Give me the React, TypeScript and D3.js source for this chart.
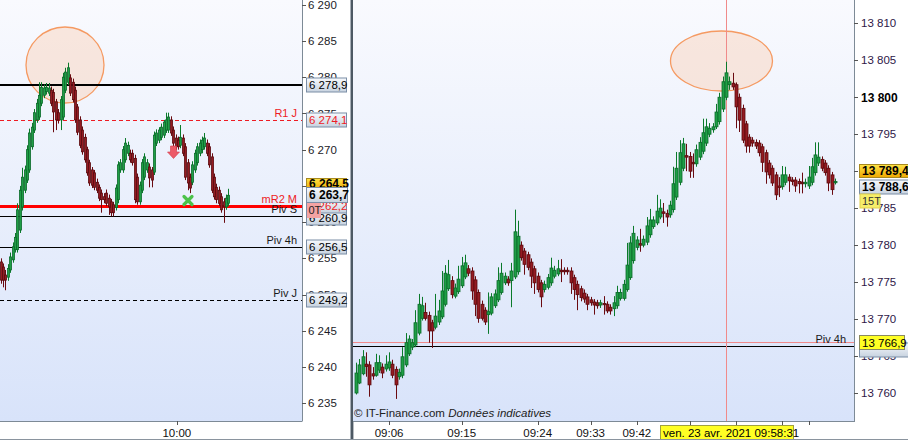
import * as d3 from 'd3';

const FONT = '"Liberation Sans", Arial, sans-serif';

// left panel candles (CAC 40), [open, high, low, close]
const leftCandles: [number, number, number, number][] = [
  [6254.5, 6255.0, 6251.5, 6252.0], [6253.8, 6254.3, 6251.0, 6252.0], [6252.7, 6253.4, 6250.6, 6252.0],
  [6252.4, 6254.2, 6251.9, 6253.6], [6253.4, 6255.8, 6253.0, 6255.2], [6254.8, 6257.2, 6254.4, 6256.6],
  [6256.2, 6258.5, 6255.8, 6257.9], [6256.2, 6262.6, 6255.8, 6261.7], [6258.9, 6265.0, 6258.5, 6264.4],
  [6262.1, 6267.5, 6261.6, 6266.2], [6264.4, 6267.8, 6264.0, 6267.2], [6265.8, 6270.6, 6265.4, 6270.0],
  [6267.2, 6272.9, 6266.8, 6272.3], [6270.4, 6273.7, 6270.0, 6273.1], [6272.7, 6275.6, 6272.3, 6275.1],
  [6274.1, 6277.0, 6273.7, 6276.4], [6274.5, 6279.3, 6274.1, 6277.5], [6276.4, 6279.3, 6276.0, 6278.6],
  [6277.5, 6279.0, 6277.1, 6278.5], [6278.0, 6279.2, 6277.6, 6278.6], [6277.8, 6279.2, 6277.4, 6278.5],
  [6278.2, 6278.7, 6276.0, 6276.4], [6277.9, 6278.4, 6272.4, 6275.2], [6276.6, 6277.0, 6272.7, 6274.1],
  [6275.1, 6275.6, 6273.6, 6274.1], [6274.1, 6277.4, 6272.7, 6276.9], [6274.5, 6280.6, 6274.1, 6280.0],
  [6278.2, 6281.3, 6277.8, 6280.7], [6279.3, 6282.0, 6278.9, 6281.3], [6279.9, 6280.4, 6277.4, 6277.8],
  [6279.3, 6279.8, 6276.5, 6276.9], [6278.2, 6278.7, 6273.7, 6274.1], [6275.9, 6276.3, 6272.0, 6272.4],
  [6274.1, 6274.6, 6270.2, 6270.6], [6272.7, 6273.2, 6269.3, 6269.7], [6271.7, 6272.2, 6268.2, 6268.6],
  [6270.0, 6270.4, 6266.4, 6266.8], [6268.2, 6268.6, 6265.0, 6265.4], [6267.2, 6267.6, 6264.7, 6265.1],
  [6266.8, 6267.2, 6264.4, 6264.8], [6265.5, 6266.0, 6264.0, 6264.4], [6264.8, 6265.2, 6262.9, 6263.3],
  [6264.0, 6264.5, 6261.3, 6263.1], [6263.5, 6264.0, 6262.6, 6263.1], [6264.0, 6264.5, 6262.2, 6262.6],
  [6263.3, 6263.8, 6261.0, 6262.1], [6262.8, 6263.2, 6260.8, 6261.3], [6262.4, 6262.8, 6260.8, 6261.3],
  [6262.0, 6265.2, 6261.6, 6264.7], [6263.1, 6268.4, 6262.6, 6267.9], [6267.2, 6268.7, 6266.8, 6268.2],
  [6267.2, 6270.5, 6266.8, 6270.0], [6268.6, 6271.6, 6268.2, 6270.9], [6269.5, 6271.1, 6269.1, 6270.6],
  [6269.5, 6270.0, 6268.2, 6268.6], [6269.5, 6270.0, 6267.8, 6268.2], [6268.8, 6269.3, 6262.6, 6263.1],
  [6266.2, 6266.7, 6262.4, 6262.8], [6262.8, 6265.6, 6262.4, 6265.1], [6264.4, 6268.7, 6264.0, 6268.2],
  [6266.2, 6269.5, 6265.8, 6269.0], [6267.2, 6268.7, 6266.8, 6268.2], [6267.6, 6268.1, 6264.8, 6266.1],
  [6267.2, 6267.6, 6264.8, 6265.8], [6266.9, 6272.5, 6266.5, 6272.0], [6270.9, 6272.8, 6270.5, 6272.3],
  [6271.3, 6273.1, 6270.9, 6272.7], [6271.7, 6273.6, 6271.3, 6273.1], [6272.0, 6274.1, 6271.6, 6273.8],
  [6272.7, 6275.1, 6272.3, 6274.1], [6272.7, 6275.1, 6272.3, 6274.5], [6274.1, 6274.6, 6271.9, 6272.3],
  [6272.7, 6273.2, 6270.5, 6270.9], [6271.6, 6272.1, 6270.0, 6270.4], [6271.3, 6271.8, 6270.0, 6270.4],
  [6270.6, 6273.4, 6270.2, 6271.7], [6271.6, 6272.1, 6269.1, 6269.5], [6270.4, 6270.9, 6265.8, 6266.2],
  [6268.2, 6268.7, 6264.4, 6265.4], [6266.2, 6266.7, 6264.0, 6264.7], [6265.5, 6268.4, 6265.1, 6267.9],
  [6267.2, 6270.0, 6266.8, 6269.5], [6268.2, 6270.9, 6267.8, 6270.4], [6269.5, 6271.4, 6269.1, 6270.9],
  [6270.0, 6271.8, 6269.5, 6271.3], [6270.4, 6272.3, 6270.0, 6271.6], [6270.9, 6271.4, 6269.1, 6269.5],
  [6270.4, 6270.9, 6267.5, 6267.9], [6269.0, 6269.5, 6264.0, 6264.4], [6266.2, 6266.7, 6263.1, 6263.5],
  [6264.8, 6265.3, 6262.6, 6263.1], [6264.4, 6264.9, 6262.2, 6262.6], [6263.5, 6264.0, 6261.3, 6261.7],
  [6262.8, 6263.3, 6259.9, 6262.1], [6262.1, 6263.8, 6261.7, 6263.3], [6262.6, 6264.6, 6262.2, 6263.7],
];

// right panel candles (DAX), [open, high, low, close]
const rightCandles: [number, number, number, number][] = [
  [13760.0, 13764.1, 13759.8, 13762.7], [13761.35, 13764.6, 13761.2, 13763.8], [13762.6, 13765.8, 13762.4, 13764.9],
  [13763.9, 13765.5, 13762.2, 13763.6], [13763.8, 13764.3, 13759.5, 13761.1], [13762.6, 13763.5, 13761.8, 13762.3],
  [13762.4, 13765.3, 13762.2, 13764.1], [13763.1, 13765.1, 13762.7, 13764.1], [13763.5, 13764.0, 13762.0, 13762.7],
  [13763.25, 13765.1, 13762.9, 13763.9], [13763.4, 13765.5, 13763.0, 13764.2], [13763.9, 13764.5, 13762.0, 13762.4],
  [13763.2, 13763.6, 13759.2, 13761.1], [13762.2, 13763.3, 13761.8, 13762.8], [13762.4, 13766.2, 13762.0, 13764.9],
  [13763.8, 13768.1, 13763.5, 13766.8], [13765.3, 13767.8, 13765.0, 13767.3], [13766.2, 13767.3, 13765.8, 13766.8],
  [13766.5, 13771.2, 13766.2, 13769.5], [13768.1, 13773.4, 13767.8, 13772.0], [13770.1, 13773.0, 13769.8, 13771.8],
  [13770.9, 13772.2, 13769.8, 13770.1], [13770.5, 13771.0, 13766.8, 13768.4], [13769.5, 13769.9, 13766.1, 13768.4],
  [13768.9, 13773.4, 13768.6, 13770.4], [13769.6, 13772.6, 13769.2, 13771.1], [13770.3, 13776.5, 13770.0, 13773.8],
  [13772.0, 13777.3, 13771.7, 13776.2], [13774.1, 13778.0, 13773.8, 13776.0], [13775.2, 13775.8, 13772.8, 13773.3],
  [13773.1, 13774.8, 13772.8, 13774.2], [13773.7, 13777.2, 13773.4, 13775.4], [13774.5, 13778.4, 13774.2, 13777.2],
  [13775.7, 13778.7, 13775.4, 13777.6], [13776.8, 13777.3, 13775.8, 13776.2], [13776.5, 13777.0, 13772.6, 13773.8],
  [13775.3, 13775.8, 13770.4, 13772.0], [13773.6, 13774.0, 13769.5, 13770.1], [13772.0, 13772.5, 13769.8, 13770.1],
  [13771.2, 13771.6, 13769.2, 13769.6], [13770.6, 13773.6, 13768.0, 13771.0], [13770.8, 13773.5, 13770.5, 13773.0],
  [13771.8, 13774.0, 13771.5, 13773.4], [13772.6, 13777.0, 13772.3, 13775.2], [13773.6, 13777.6, 13773.3, 13776.2],
  [13774.9, 13776.3, 13774.6, 13775.8], [13775.4, 13775.8, 13774.5, 13774.9], [13775.2, 13777.6, 13771.6, 13776.5],
  [13775.7, 13784.8, 13775.4, 13781.8], [13776.4, 13783.3, 13776.0, 13781.2], [13780.0, 13780.5, 13777.9, 13778.3],
  [13779.2, 13779.6, 13776.0, 13777.4], [13778.7, 13779.1, 13776.6, 13777.0], [13777.7, 13778.2, 13774.2, 13775.8],
  [13776.8, 13777.2, 13773.4, 13774.9], [13775.8, 13776.3, 13773.6, 13774.0], [13774.9, 13775.3, 13771.6, 13773.0],
  [13774.0, 13775.2, 13773.6, 13774.7], [13774.3, 13776.1, 13774.0, 13775.6], [13774.9, 13778.3, 13774.5, 13776.9],
  [13775.8, 13777.2, 13775.5, 13776.6], [13776.1, 13778.0, 13775.8, 13776.8], [13776.6, 13778.1, 13775.0, 13776.4],
  [13776.6, 13777.0, 13776.0, 13776.4], [13776.6, 13777.0, 13776.0, 13776.4], [13776.5, 13777.0, 13773.4, 13774.9],
  [13775.6, 13776.0, 13772.6, 13774.0], [13774.7, 13775.2, 13771.2, 13773.3], [13774.1, 13774.5, 13772.4, 13772.9],
  [13773.5, 13774.0, 13772.2, 13772.7], [13773.0, 13773.4, 13771.2, 13772.0], [13772.6, 13773.0, 13771.8, 13772.2],
  [13772.3, 13772.7, 13770.6, 13771.9], [13772.2, 13772.6, 13771.4, 13771.8], [13771.9, 13772.6, 13771.5, 13772.2],
  [13772.1, 13773.1, 13770.6, 13772.0], [13772.0, 13772.4, 13770.8, 13771.1], [13771.6, 13772.0, 13770.6, 13771.1],
  [13771.4, 13773.1, 13770.4, 13772.2], [13771.8, 13774.5, 13771.4, 13773.6], [13772.8, 13774.1, 13772.5, 13773.6],
  [13772.8, 13775.3, 13772.5, 13774.7], [13774.0, 13780.3, 13773.7, 13777.3], [13775.6, 13781.2, 13775.3, 13780.3],
  [13777.9, 13782.6, 13777.5, 13781.6], [13779.7, 13781.2, 13779.3, 13780.7], [13780.2, 13782.2, 13779.1, 13780.0],
  [13780.0, 13781.3, 13779.7, 13780.8], [13780.4, 13783.8, 13780.0, 13782.6], [13781.4, 13784.9, 13781.0, 13783.4],
  [13782.5, 13783.9, 13782.2, 13783.4], [13783.0, 13786.8, 13782.7, 13784.6], [13783.8, 13786.2, 13783.5, 13785.0],
  [13784.5, 13785.7, 13783.0, 13784.3], [13784.3, 13784.8, 13782.5, 13783.8], [13784.1, 13786.0, 13783.7, 13785.4],
  [13784.8, 13790.6, 13784.4, 13788.3], [13786.5, 13792.6, 13786.1, 13790.4], [13788.5, 13794.2, 13788.1, 13792.5],
  [13790.4, 13794.5, 13790.0, 13793.7], [13792.1, 13793.7, 13790.0, 13791.9], [13792.0, 13792.6, 13789.1, 13790.0],
  [13791.2, 13792.4, 13789.1, 13791.0], [13791.0, 13793.6, 13790.6, 13792.9], [13791.9, 13794.6, 13791.5, 13793.9],
  [13792.7, 13797.1, 13792.3, 13795.2], [13793.8, 13797.1, 13793.4, 13796.0], [13795.0, 13796.5, 13794.6, 13795.8],
  [13795.6, 13796.5, 13795.2, 13796.0], [13796.0, 13799.1, 13795.7, 13798.0], [13796.7, 13800.6, 13796.3, 13800.0],
  [13798.4, 13802.8, 13798.0, 13802.1], [13800.0, 13804.8, 13799.6, 13803.3], [13801.7, 13802.8, 13801.0, 13802.1],
  [13801.9, 13803.3, 13801.0, 13801.4], [13801.7, 13802.0, 13795.8, 13798.7], [13800.0, 13800.5, 13795.3, 13796.9],
  [13798.5, 13799.0, 13793.8, 13794.2], [13796.4, 13796.8, 13792.5, 13793.4], [13794.6, 13795.0, 13792.5, 13793.4],
  [13794.2, 13794.6, 13793.3, 13793.8], [13793.9, 13794.3, 13793.0, 13793.4], [13793.8, 13794.2, 13792.0, 13792.5],
  [13793.3, 13793.7, 13789.9, 13791.2], [13792.5, 13792.9, 13788.3, 13789.9], [13791.1, 13791.5, 13789.0, 13789.5],
  [13790.4, 13790.8, 13788.0, 13788.4], [13789.5, 13789.9, 13786.1, 13786.8], [13788.0, 13789.2, 13786.5, 13787.8],
  [13787.9, 13790.7, 13787.5, 13789.5], [13788.5, 13790.6, 13788.1, 13789.5], [13789.2, 13789.6, 13787.2, 13788.7],
  [13788.8, 13789.2, 13788.1, 13788.6], [13788.8, 13789.2, 13787.2, 13788.0], [13788.6, 13789.0, 13787.0, 13788.3],
  [13788.5, 13789.8, 13787.0, 13788.3], [13788.3, 13789.0, 13787.8, 13788.5], [13788.0, 13790.7, 13787.6, 13789.2],
  [13788.5, 13791.8, 13788.1, 13790.6], [13789.8, 13793.9, 13789.4, 13792.2], [13791.1, 13793.9, 13790.7, 13791.9],
  [13791.6, 13792.0, 13790.0, 13790.4], [13791.1, 13791.5, 13789.4, 13789.8], [13790.4, 13790.8, 13787.3, 13788.4],
  [13789.5, 13789.9, 13786.8, 13787.5], [13788.5, 13789.0, 13788.2, 13788.6],
];

const leftTicks = [6235, 6240, 6245, 6250, 6255, 6260, 6265, 6270, 6275, 6280, 6285, 6290];
const rightTicks = [13760, 13765, 13770, 13775, 13780, 13785, 13790, 13795, 13800, 13805, 13810];

const leftTimeIdx = [73.5];
const leftTimeLabels = ['10:00'];
// labels after 09:42 sit under the crosshair time box
const rightTimeIdx = [10, 32, 55, 71, 85, 101, 115, 129, 137];
const rightTimeLabels = ['09:06', '09:15', '09:24', '09:33', '09:42', '', '', '', ''];

const leftLevelNames = ['', 'R1 J', 'mR2 M', 'Piv S', 'Piv 4h', 'Piv J'];
const leftLevelValues = [6278.9, 6274.1, 6262.2, 6260.9, 6256.5, 6249.2];
const rightLevelNames = ['Piv 4h'];
const rightLevelValues = [13766.3];

const leftLast = [6264.5, 6263.7];
const rightLast = [13789.4, 13788.6];
const crossIdx = 112;
const crossPrice = 13766.9;
const crossTime = 'ven. 23 avr. 2021 09:58:31';

const loc = d3.formatLocale({ decimal: ',', thousands: ' ', grouping: [3], currency: ['', ''] });
const fmt0 = loc.format(',.0f');
const fmt1 = loc.format(',.1f');

const UP_FILL = '#1f9e46', UP_EDGE = '#0b6a2a', UP_WICK = '#0a7a2a';
const DN_FILL = '#941b22', DN_EDGE = '#5a0a0e', DN_WICK = '#6a0a10';

function Candles({ data, x, y, w }: any) {
  return (
    <g>
      {data.map(([o, h, l, c]: number[], i: number) => {
        const up = c >= o;
        const cx = Math.round(x(i)) + 0.5;
        const top = y(Math.max(o, c));
        const bot = y(Math.min(o, c));
        return (
          <g key={i}>
            <line x1={cx} x2={cx} y1={y(h)} y2={y(l)} stroke={up ? UP_WICK : DN_WICK} strokeWidth={1} />
            <rect x={cx - w / 2} y={top} width={w} height={Math.max(1.2, bot - top)}
              fill={up ? UP_FILL : DN_FILL} stroke={up ? UP_EDGE : DN_EDGE} strokeWidth={0.8} />
          </g>
        );
      })}
    </g>
  );
}

function Tag({ x, yc, w, text, fill, stroke, color = '#000', bold = false, h = 15 }: any) {
  return (
    <g>
      <rect x={x + 0.5} y={yc - h / 2 + 0.5} width={w} height={h - 1} fill={fill} stroke={stroke} strokeWidth={1} />
      <text x={x + 3} y={yc} dy="0.36em" fontSize={bold ? 12 : 11.5} fontWeight={bold ? 'bold' : 'normal'} fill={color}>{text}</text>
    </g>
  );
}

export default function App() {
  const L = { x0: 0, x1: 302, y0: 0, y1: 421 };
  const R = { x0: 353, x1: 855, y0: 0, y1: 421 };

  const yL = d3.scaleLinear().domain([6235, 6290]).range([403.3, 4.7]);
  const xL = d3.scaleLinear().domain([0, leftCandles.length - 1]).range([0.7, 228.3]);
  const yR = d3.scaleLinear().domain([13760, 13810]).range([393, 23.3]);
  const xR = d3.scaleLinear().domain([0, rightCandles.length - 1]).range([356, 835]);

  const levelStyle = (name: string) => {
    if (name === '') return { stroke: '#000', w: 2, dash: undefined, color: '#000' };
    if (name === 'R1 J') return { stroke: '#ee1c24', w: 1, dash: '4,3', color: '#ee1c24' };
    if (name === 'mR2 M') return { stroke: '#ff0000', w: 3, dash: undefined, color: '#ee1c24' };
    if (name === 'Piv J') return { stroke: '#000', w: 1, dash: '4,3', color: '#1a1a1a' };
    return { stroke: '#000', w: 1, dash: undefined, color: '#1a1a1a' };
  };

  const crossX = Math.round(xR(crossIdx)) + 0.5;
  const crossY = Math.round(yR(crossPrice)) + 0.5;

  return (
    <svg width={908} height={440} style={{ position: 'fixed', left: 0, top: 0, fontFamily: FONT }}>
      <defs>
        <linearGradient id="plotBg" x1="0" y1="0" x2="0" y2="1">
          <stop offset="0" stopColor="#f9fafe" />
          <stop offset="1" stopColor="#d8e3fa" />
        </linearGradient>
        <linearGradient id="tagGray" x1="0" y1="0" x2="0" y2="1">
          <stop offset="0" stopColor="#f8fafd" />
          <stop offset="1" stopColor="#c7d2df" />
        </linearGradient>
        <linearGradient id="tagGold" x1="0" y1="0" x2="0" y2="1">
          <stop offset="0" stopColor="#ffe447" />
          <stop offset="1" stopColor="#eea800" />
        </linearGradient>
        <clipPath id="clipL"><rect x={L.x0} y={L.y0} width={L.x1 - L.x0} height={L.y1 - L.y0} /></clipPath>
        <clipPath id="clipR"><rect x={R.x0} y={R.y0} width={R.x1 - R.x0} height={R.y1 - R.y0} /></clipPath>
      </defs>
      <rect x={0} y={0} width={908} height={440} fill="#fff" />

      {/* ---------- left panel ---------- */}
      <rect x={L.x0} y={L.y0} width={L.x1 - L.x0} height={L.y1 - L.y0} fill="url(#plotBg)" />
      <g clipPath="url(#clipL)">
        <ellipse cx={65} cy={65} rx={39} ry={38} fill="#f9d3bd" fillOpacity={0.5} stroke="#f59a62" strokeWidth={1.3} />
        {leftLevelValues.map((v, i) => {
          const s = levelStyle(leftLevelNames[i]);
          const yy = s.w % 2 ? Math.round(yL(v)) + 0.5 : Math.round(yL(v));
          return <line key={i} x1={L.x0} x2={L.x1} y1={yy} y2={yy} stroke={s.stroke} strokeWidth={s.w} strokeDasharray={s.dash} />;
        })}
        <Candles data={leftCandles} x={xL} y={yL} w={2} />
        {/* signal marks */}
        <path d="M170.5,146 h6 v6 h3 l-6,6.5 l-6,-6.5 h3 z" fill="#ec5a68" stroke="#d43a4a" strokeWidth={0.6} />
        <g stroke="#4cc24a" strokeWidth={3.2} strokeLinecap="round">
          <line x1={184} y1={196.5} x2={192} y2={204.5} />
          <line x1={192} y1={196.5} x2={184} y2={204.5} />
        </g>
        {leftLevelValues.map((v, i) => {
          const name = leftLevelNames[i];
          if (!name) return null;
          const s = levelStyle(name);
          return (
            <text key={i} x={297} y={Math.round(yL(v)) - 3} textAnchor="end" fontSize={11} fill={s.color}>{name}</text>
          );
        })}
      </g>
      <line x1={L.x1 + 0.5} x2={L.x1 + 0.5} y1={0} y2={L.y1} stroke="#7d8a96" />
      <line x1={0} x2={L.x1 + 0.5} y1={L.y1 + 0.5} y2={L.y1 + 0.5} stroke="#7d8a96" />
      {leftTicks.map((t) => (
        <g key={t}>
          <line x1={L.x1} x2={L.x1 + 4} y1={Math.round(yL(t)) + 0.5} y2={Math.round(yL(t)) + 0.5} stroke="#555" />
          <text x={L.x1 + 6} y={yL(t)} dy="0.36em" fontSize={11.5} fill="#1c1c28">{fmt0(t)}</text>
        </g>
      ))}
      {leftTimeIdx.map((t, i) => (
        <g key={i}>
          <line x1={Math.round(xL(t)) + 0.5} x2={Math.round(xL(t)) + 0.5} y1={L.y1} y2={L.y1 + 4} stroke="#555" />
          <text x={xL(t)} y={437} textAnchor="middle" fontSize={11.5} fill="#111">{leftTimeLabels[i]}</text>
        </g>
      ))}
      {/* left value tags */}
      <Tag x={306} yc={Math.round(yL(leftLevelValues[0]))} w={40} text={fmt1(leftLevelValues[0])} fill="url(#tagGray)" stroke="#7b8ea6" />
      <Tag x={306} yc={Math.round(yL(leftLevelValues[1]))} w={40} text={fmt1(leftLevelValues[1])} fill="url(#tagGray)" stroke="#7b8ea6" color="#ee1c24" />
      <Tag x={306} yc={Math.round(yL(leftLevelValues[5]))} w={40} text={fmt1(leftLevelValues[5])} fill="url(#tagGray)" stroke="#7b8ea6" />
      <Tag x={306} yc={Math.round(yL(leftLevelValues[4]))} w={40} text={fmt1(leftLevelValues[4])} fill="url(#tagGray)" stroke="#7b8ea6" />
      <Tag x={306} yc={Math.round(yL(leftLevelValues[3])) + 2} w={40} text={fmt1(leftLevelValues[3])} fill="url(#tagGray)" stroke="#7b8ea6" />
      <Tag x={306} yc={Math.round(yL(leftLevelValues[2]))} w={40} text={fmt1(leftLevelValues[2])} fill="url(#tagGray)" stroke="#7b8ea6" color="#ee1c24" />
      <Tag x={306} yc={Math.round(yL(leftLast[0])) - 6} w={40} h={12} text={fmt1(leftLast[0])} fill="url(#tagGold)" stroke="#a88a20" bold />
      <Tag x={306} yc={Math.round(yL(leftLast[1]))} w={41} h={16} text={fmt1(leftLast[1])} fill="url(#tagGray)" stroke="#7b8ea6" bold />
      <rect x={307} y={203} width={14} height={15} fill="#f4a3a3" />
      <text x={308.5} y={210.5} dy="0.36em" fontSize={11} fill="#222">0T</text>

      {/* separator */}
      <line x1={350.5} x2={350.5} y1={0} y2={440} stroke="#a8b0b8" />
      <line x1={352.2} x2={352.2} y1={0} y2={440} stroke="#4d5964" strokeWidth={2.4} />

      {/* ---------- right panel ---------- */}
      <rect x={R.x0} y={R.y0} width={R.x1 - R.x0} height={R.y1 - R.y0} fill="url(#plotBg)" />
      <g clipPath="url(#clipR)">
        <ellipse cx={721.5} cy={61} rx={51} ry={30} fill="#f9d3bd" fillOpacity={0.5} stroke="#f59a62" strokeWidth={1.3} />
        {rightLevelValues.map((v, i) => (
          <line key={i} x1={R.x0} x2={R.x1} y1={Math.round(yR(v)) + 0.5} y2={Math.round(yR(v)) + 0.5} stroke="#000" />
        ))}
        <line x1={R.x0} x2={R.x1} y1={crossY} y2={crossY} stroke="#f08a8a" />
        <line x1={crossX} x2={crossX} y1={0} y2={R.y1} stroke="#f08a8a" />
        <Candles data={rightCandles} x={xR} y={yR} w={3} />
        {rightLevelValues.map((v, i) => (
          <text key={i} x={846} y={Math.round(yR(v)) - 3} textAnchor="end" fontSize={11} fill="#1a1a1a">{rightLevelNames[i]}</text>
        ))}
        <text x={354} y={417} fontSize={11.5} fill="#222">
          © IT-Finance.com <tspan fontStyle="italic">Données indicatives</tspan>
        </text>
      </g>
      <line x1={R.x1 - 0.5} x2={R.x1 - 0.5} y1={0} y2={R.y1} stroke="#7d8a96" />
      <line x1={R.x0} x2={R.x1} y1={R.y1 + 0.5} y2={R.y1 + 0.5} stroke="#7d8a96" />
      {rightTicks.map((t) => (
        <g key={t}>
          <line x1={R.x1 - 1} x2={R.x1 + 3} y1={Math.round(yR(t)) + 0.5} y2={Math.round(yR(t)) + 0.5} stroke="#555" />
          <text x={R.x1 + 6} y={yR(t)} dy="0.36em" fontSize={t % 100 === 0 ? 12 : 11.5}
            fontWeight={t % 100 === 0 ? 'bold' : 'normal'} fill={t % 100 === 0 ? '#000' : '#2e1848'}>{fmt0(t)}</text>
        </g>
      ))}
      {rightTimeIdx.map((t, i) => (
        <g key={i}>
          <line x1={Math.round(xR(t)) + 0.5} x2={Math.round(xR(t)) + 0.5} y1={R.y1} y2={R.y1 + 4} stroke="#555" />
          {rightTimeLabels[i] && (
            <text x={xR(t)} y={437} textAnchor="middle" fontSize={11.5} fill="#111">{rightTimeLabels[i]}</text>
          )}
        </g>
      ))}
      {/* right value tags */}
      <Tag x={859} yc={Math.round(yR(rightLevelValues[0])) + 4} w={49} text="" fill="url(#tagGray)" stroke="#7b8ea6" />
      <Tag x={859} yc={crossY} w={45} h={15} text={fmt1(crossPrice)} fill="#ffff24" stroke="#8a8a60" />
      <Tag x={859} yc={Math.round(yR(rightLast[1])) + 5} w={50} h={15} text={fmt1(rightLast[1])} fill="url(#tagGray)" stroke="#7b8ea6" bold />
      <Tag x={859} yc={Math.round(yR(rightLast[0])) - 5} w={50} h={14} text={fmt1(rightLast[0])} fill="url(#tagGold)" stroke="#a88a20" bold />
      <rect x={860} y={194} width={20} height={14} fill="#f6ee6a" stroke="#e0d050" />
      <text x={862} y={201} dy="0.36em" fontSize={11} fill="#333">15T</text>
      {/* crosshair time */}
      <rect x={660.5} y={425.5} width={133} height={14} fill="#ffff24" stroke="#a0a040" />
      <text x={663} y={433} dy="0.36em" fontSize={11.5} fill="#000">{crossTime}</text>

      <line x1={0} x2={908} y1={439.5} y2={439.5} stroke="#8a949e" />
    </svg>
  );
}
